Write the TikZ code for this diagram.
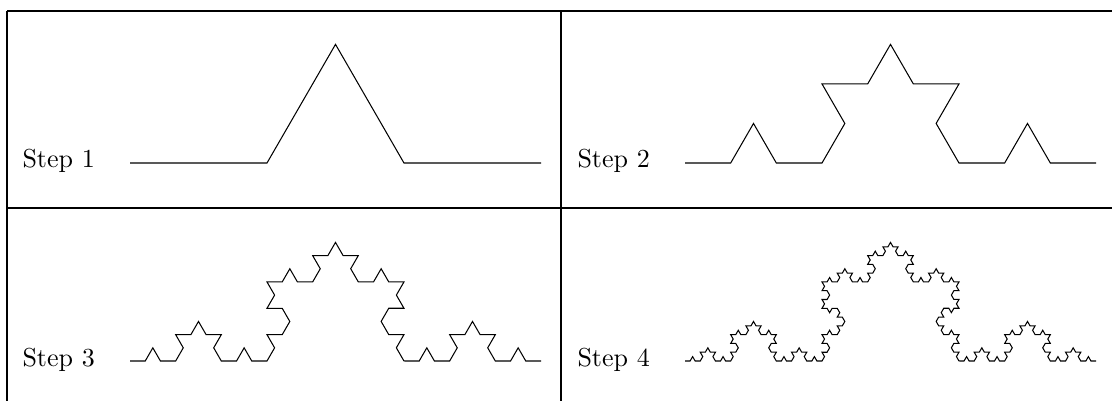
\documentclass[tikz,border=0pt]{standalone}
\usetikzlibrary{decorations.fractals}
\begin{document}
\begin{tikzpicture}[x=0.3846pt,y=-0.3846pt,
  rule/.style={line width=0.5pt},
  koch/.style={line width=0.4pt, decoration=Koch snowflake},
  lbl/.style={anchor=base west, inner sep=0pt, font=\normalsize}]
\useasboundingbox (0,0) rectangle (1112,401);
% table rules
\draw[rule] (7,11) -- (1112,11);
\draw[rule] (7,11) -- (7,401);
\draw[rule] (561,11) -- (561,401);
\draw[rule] (7,208) -- (1112,208);
% labels
\node[lbl] (s1) at (22,167) {Step 1};
\node[lbl] (s2) at (577,167) {Step 2};
\node[lbl] (s3) at (22,366) {Step 3};
\node[lbl] (s4) at (577,366) {Step 4};
% curve end points
\coordinate (a1) at (130,163); \coordinate (b1) at (541,163);
\coordinate (a2) at (685,163); \coordinate (b2) at (1096,163);
\coordinate (a3) at (130,361); \coordinate (b3) at (541,361);
\coordinate (a4) at (685,361); \coordinate (b4) at (1096,361);
% Koch curves
\draw[koch] decorate{ (a1) -- (b1) };
\draw[koch] decorate{ decorate{ (a2) -- (b2) }};
\draw[koch] decorate{ decorate{ decorate{ (a3) -- (b3) }}};
\draw[koch] decorate{ decorate{ decorate{ decorate{ (a4) -- (b4) }}}};
\end{tikzpicture}
\end{document}
